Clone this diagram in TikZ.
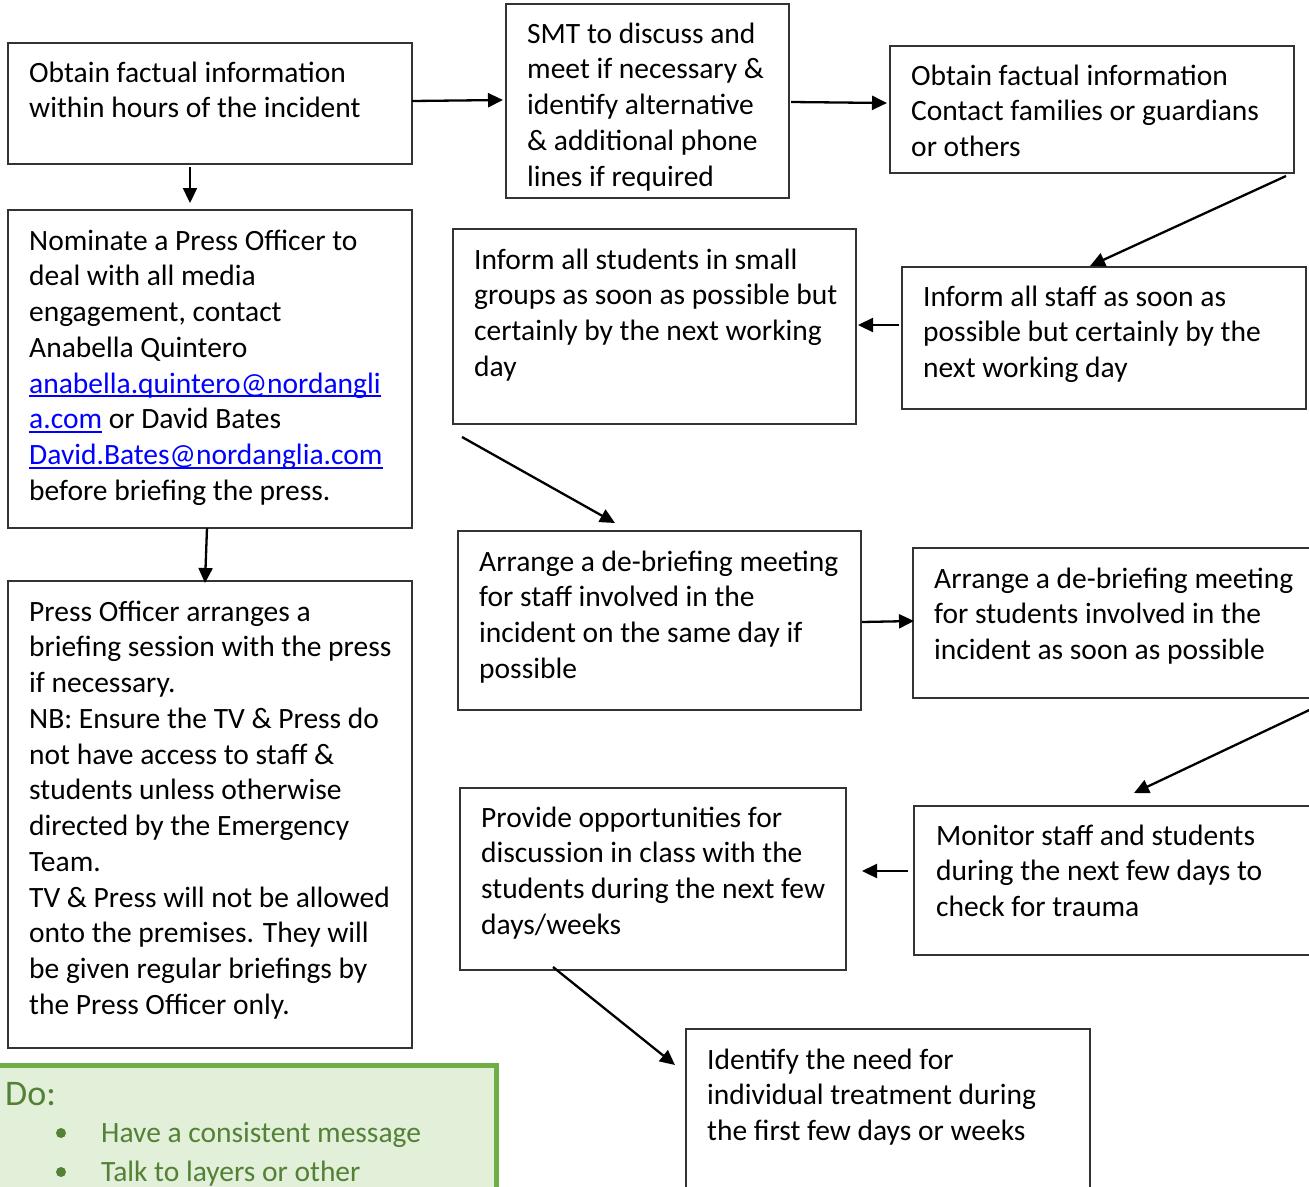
\documentclass[tikz,border=0pt]{standalone}
\usepackage{fontspec}
\setmainfont{Carlito}
\usetikzlibrary{arrows.meta}
\definecolor{boxline}{HTML}{333333}
\definecolor{linkblue}{HTML}{0000FF}
\definecolor{greenfill}{HTML}{E2EFD9}
\definecolor{greenline}{HTML}{70AD47}
\definecolor{greentext}{HTML}{538135}
\newcommand\lnk[1]{\textcolor{linkblue}{\setbox0=\hbox{#1}\rlap{\rule[-4pt]{\wd0}{1.8pt}}\box0}}
\tikzset{
  frame/.style={draw=boxline, line width=1.4pt, fill=white, anchor=north west, inner sep=0pt, outer sep=0pt},
  txt/.style={anchor=north west, inner sep=0pt, align=left, font={\fontsize{29.5}{35.75}\selectfont}, text=black},
  conn/.style={line width=2.3pt, -{Triangle[length=15pt,width=14pt]}},
}
\begin{document}
\begin{tikzpicture}[x=1pt,y=-1pt]
\useasboundingbox[fill=white] (0,0) rectangle (1309,1186);

% boxes
\node[frame, minimum width=404pt, minimum height=121pt] (a) at (8,43) {};
\node[txt] (ta) at (29,56.8) {\strut Obtain factual information\\within hours of the incident};

\node[frame, minimum width=283pt, minimum height=194pt] (b) at (506,4) {};
\node[txt] (tb) at (527,17.8) {\strut SMT to discuss and\\meet if necessary \&\\identify alternative\\\& additional phone\\lines if required};

\node[frame, minimum width=404pt, minimum height=127pt] (c) at (890,46) {};
\node[txt] (tc) at (911,59.8) {\strut Obtain factual information\\Contact families or guardians\\or others};

\node[frame, minimum width=404pt, minimum height=318pt] (d) at (8,210) {};
\node[txt] (td) at (29,224.8) {\strut Nominate a Press Officer to\\deal with all media\\engagement, contact\\Anabella Quintero\\\lnk{anabella.quintero@nordangli}\\\lnk{a.com} or David Bates\\\lnk{David.Bates@nordanglia.com}\\before briefing the press.};

\node[frame, minimum width=403pt, minimum height=195pt] (e) at (453,229) {};
\node[txt] (te) at (474,243.8) {\strut Inform all students in small\\groups as soon as possible but\\certainly by the next working\\day};

\node[frame, minimum width=404pt, minimum height=142pt] (f) at (902,267) {};
\node[txt] (tf) at (923,280.8) {\strut Inform all staff as soon as\\possible but certainly by the\\next working day};

\node[frame, minimum width=404pt, minimum height=467pt] (g) at (8,581) {};
\node[txt] (tg) at (29,595.8) {\strut Press Officer arranges a\\briefing session with the press\\if necessary.\\NB: Ensure the TV \& Press do\\not have access to staff \&\\students unless otherwise\\directed by the Emergency\\Team.\\TV \& Press will not be allowed\\onto the premises. They will\\be given regular briefings by\\the Press Officer only.};

\node[frame, minimum width=403pt, minimum height=179pt] (h) at (458,531) {};
\node[txt] (th) at (479,545.8) {\strut Arrange a de-briefing meeting\\for staff involved in the\\incident on the same day if\\possible};

\node[frame, minimum width=410pt, minimum height=150pt] (i) at (913,548) {};
\node[txt] (ti) at (934,562.8) {\strut Arrange a de-briefing meeting\\for students involved in the\\incident as soon as possible};

\node[frame, minimum width=386pt, minimum height=182pt] (j) at (460,788) {};
\node[txt] (tj) at (481,801.8) {\strut Provide opportunities for\\discussion in class with the\\students during the next few\\days/weeks};

\node[frame, minimum width=410pt, minimum height=149pt] (k) at (914,806) {};
\node[txt] (tk) at (936,819.8) {\strut Monitor staff and students\\during the next few days to\\check for trauma};

\node[frame, minimum width=404pt, minimum height=180pt] (l) at (686,1029) {};
\node[txt] (tl) at (707,1043.8) {\strut Identify the need for\\individual treatment during\\the first few days or weeks};

% green box
\node[draw=greenline, line width=5pt, fill=greenfill, anchor=north west, inner sep=0pt,
      minimum width=506pt, minimum height=150pt] (green) at (-12,1062.5) {};
\node[anchor=west, inner sep=0pt, text=greentext, font={\fontsize{36}{40}\selectfont}] (dolabel) at (5,1094) {Do:};
\node[circle, fill=greentext, inner sep=0pt, minimum size=10pt] (bul1) at (61,1133) {};
\node[circle, fill=greentext, inner sep=0pt, minimum size=10pt] (bul2) at (61,1172) {};
\node[txt, anchor=west, text=greentext] (do1) at (101,1135) {Have a consistent message};
\node[txt, anchor=west, text=greentext] (do2) at (101,1174) {Talk to layers or other};

% connector end points
\coordinate (ab1) at (412,101); \coordinate (ab2) at (503,100);
\coordinate (bc1) at (791,102); \coordinate (bc2) at (887,103);
\coordinate (ad1) at (190,167); \coordinate (ad2) at (190,203);
\coordinate (dg1) at (207,528); \coordinate (dg2) at (205,583);
\coordinate (cf1) at (1286,176); \coordinate (cf2) at (1090,266);
\coordinate (fe1) at (899,325); \coordinate (fe2) at (858,325);
\coordinate (eh1) at (462,437); \coordinate (eh2) at (615,523);
\coordinate (hi1) at (862,622); \coordinate (hi2) at (914,621);
\coordinate (ik1) at (1322,704); \coordinate (ik2) at (1134,793);
\coordinate (kj1) at (908,871); \coordinate (kj2) at (862,871);
\coordinate (jl1) at (553,967); \coordinate (jl2) at (675,1065);

\draw[conn] (ab1) -- (ab2);
\draw[conn] (bc1) -- (bc2);
\draw[conn] (ad1) -- (ad2);
\draw[conn] (dg1) -- (dg2);
\draw[conn] (cf1) -- (cf2);
\draw[conn] (fe1) -- (fe2);
\draw[conn] (eh1) -- (eh2);
\draw[conn] (hi1) -- (hi2);
\draw[conn] (ik1) -- (ik2);
\draw[conn] (kj1) -- (kj2);
\draw[conn] (jl1) -- (jl2);
\end{tikzpicture}
\end{document}
